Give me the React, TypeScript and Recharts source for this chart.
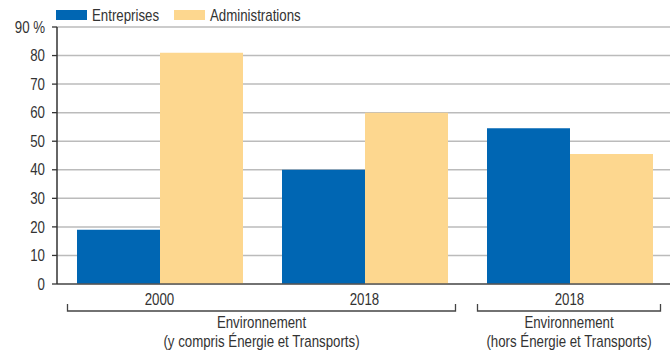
import React from 'react';
import { BarChart, Bar, XAxis, YAxis, CartesianGrid, Legend } from 'recharts';

const categories = ['2000', '2018', '2018'];
const groupOf = [0, 0, 1];
const groupLine1 = ['Environnement', 'Environnement'];
const groupLine2 = ['(y compris Énergie et Transports)', '(hors Énergie et Transports)'];
const entreprises = [19, 40, 54.5];
const administrations = [81, 60, 45.5];
const yTicks = [0, 10, 20, 30, 40, 50, 60, 70, 80, 90];

const seriesNames = ['Entreprises', 'Administrations'];
const BLUE = '#0066B3';
const YELLOW = '#FDD78F';
const TEXT = '#333333';
const FONT = '"Liberation Sans", Arial, sans-serif';
const NARROW = 0.83;

const W = 670;
const H = 353;
const M = { top: 27, right: -2, left: 0, bottom: 0 };
const YW = 57;
const BAR = 83;
const BAND = (W - M.left - M.right - YW) / categories.length;

const data = categories.map((c, i) => ({
  key: 'k' + i,
  year: c,
  Entreprises: entreprises[i],
  Administrations: administrations[i],
}));

const NText = ({ x, y, anchor = 'middle', children, size = 16 }: any) => (
  <text
    transform={`translate(${x},${y}) scale(${NARROW},1)`}
    dy="0.355em"
    textAnchor={anchor}
    fill={TEXT}
    fontSize={size}
    fontFamily={FONT}
  >
    {children}
  </text>
);

const XTick = (props: any) => {
  const { x, y, payload } = props;
  const i = payload.index;
  const g = groupOf[i];
  const isLast = i === categories.length - 1 || groupOf[i + 1] !== g;
  let first = i;
  while (first > 0 && groupOf[first - 1] === g) first--;
  const count = i - first;
  const xs = x - count * BAND;
  const left = xs - BAR - 9;
  const right = x + BAR + 8;
  const mid = (left + right) / 2;
  return (
    <g>
      <NText x={x} y={y + 15}>{categories[i]}</NText>
      {isLast && (
        <g>
          <path d={`M${left},${y + 20}V${y + 27}H${right}V${y + 20}`} stroke="#444" strokeWidth={1.3} fill="none" />
          <NText x={mid} y={y + 38}>{groupLine1[g]}</NText>
          <NText x={mid} y={y + 57}>{groupLine2[g]}</NText>
        </g>
      )}
    </g>
  );
};

const YTick = (props: any) => {
  const { x, y, payload } = props;
  const v = payload.value;
  return (
    <NText x={x} y={y} anchor="end">
      {v === 90 ? '90 %' : String(v)}
    </NText>
  );
};

const LegendContent = () => (
  <svg width={260} height={22} style={{ display: 'block' }}>
    {seriesNames.map((n, i) => (
      <g key={n} transform={`translate(${i * 118},0)`}>
        <rect x={0} y={6} width={31} height={10} fill={i === 0 ? BLUE : YELLOW} />
        <NText x={36} y={11} anchor="start">{n}</NText>
      </g>
    ))}
  </svg>
);

export default function App() {
  return (
    <div style={{ position: 'absolute', left: 0, top: 0, width: W, height: H, background: '#fff' }}>
      <BarChart width={W} height={H} data={data} margin={M} barGap={0} barSize={BAR}>
        <CartesianGrid vertical={false} stroke="#bbbbbb" strokeWidth={1.5} />
        <XAxis
          dataKey="key"
          height={H - 284}
          tickLine={false}
          tickSize={0}
          tickMargin={0}
          axisLine={{ stroke: '#555', strokeWidth: 1.3 }}
          tick={<XTick />}
          interval={0}
        />
        <YAxis
          width={YW}
          domain={[0, 90]}
          ticks={yTicks}
          interval={0}
          tickSize={5}
          tickMargin={7}
          axisLine={{ stroke: '#333', strokeWidth: 1.5 }}
          tickLine={{ stroke: '#333', strokeWidth: 1.3 }}
          tick={<YTick />}
        />
        <Legend
          layout="horizontal"
          verticalAlign="middle"
          align="center"
          content={<LegendContent />}
          wrapperStyle={{ position: 'absolute', top: 4, left: 56, width: 260 }}
        />
        <Bar dataKey="Entreprises" fill={BLUE} isAnimationActive={false} />
        <Bar dataKey="Administrations" fill={YELLOW} isAnimationActive={false} />
      </BarChart>
    </div>
  );
}
